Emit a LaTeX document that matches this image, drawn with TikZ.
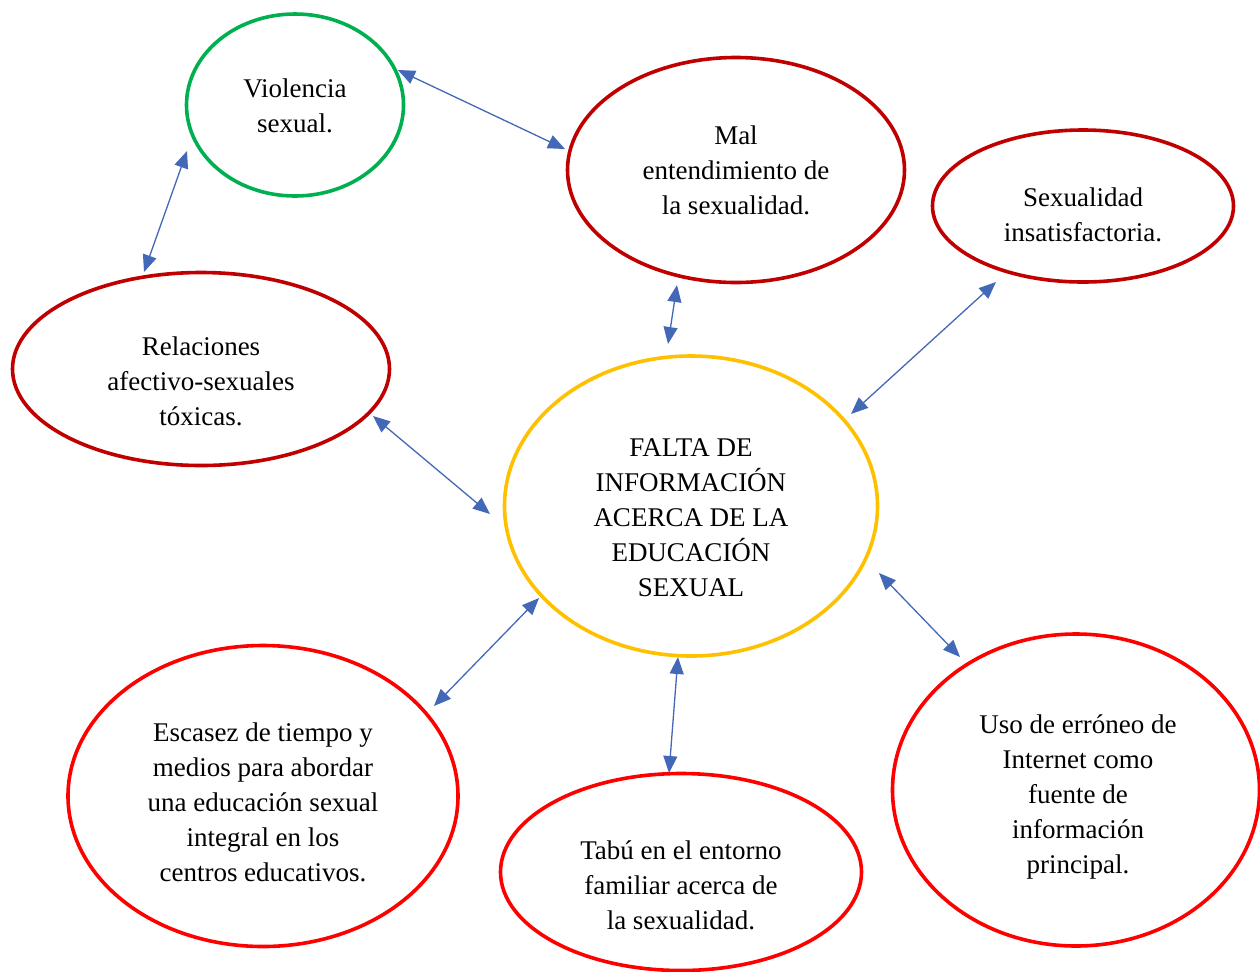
\documentclass[tikz,border=0pt]{standalone}
\usepackage{fontspec}
\setmainfont{Liberation Serif}
\usetikzlibrary{arrows.meta,shapes.geometric}
\definecolor{cgreen}{HTML}{00B050}
\definecolor{cdred}{HTML}{C00000}
\definecolor{cred}{HTML}{FF0000}
\definecolor{corange}{HTML}{FFC000}
\definecolor{cblue}{HTML}{4468B8}
\tikzset{
  oval/.style={ellipse, draw, line width=1.8pt, inner sep=0pt, outer sep=0pt},
  lbl/.style={align=center, font=\fontsize{13.5}{17.5}\selectfont, inner sep=0pt},
  link/.style={cblue, line width=0.65pt, {Triangle[length=8.5pt,width=7pt]}-{Triangle[length=8.5pt,width=7pt]}}
}
\begin{document}
\begin{tikzpicture}[x=0.5pt,y=-0.5pt]
\clip (0,0) rectangle (1260,971);
\fill[white] (0,0) rectangle (1260,971);
% ellipses
\node[oval, draw=cgreen,  minimum width=108.5pt, minimum height=91pt]   (viol) at (295,105) {};
\node[oval, draw=cdred,   minimum width=168.5pt, minimum height=112.5pt] (mal)  at (736,170) {};
\node[oval, draw=cdred,   minimum width=150.5pt, minimum height=76pt]    (sex)  at (1083,206) {};
\node[oval, draw=cdred,   minimum width=188.5pt, minimum height=96.5pt]  (rel)  at (201,369) {};
\node[oval, draw=corange, minimum width=186.5pt, minimum height=150pt]   (cen)  at (691,506) {};
\node[oval, draw=cred,    minimum width=195pt,   minimum height=150.5pt] (esc)  at (263,796) {};
\node[oval, draw=cred,    minimum width=180.5pt, minimum height=98.5pt]  (tab)  at (681,872) {};
\node[oval, draw=cred,    minimum width=183.5pt, minimum height=156pt]   (uso)  at (1076,790) {};
% texts
\node[lbl] (violT) at (295,106) {Violencia\\sexual.};
\node[lbl] (malT)  at (736,170) {Mal\\entendimiento de\\la sexualidad.};
\node[lbl] (sexT)  at (1083,215) {Sexualidad\\insatisfactoria.};
\node[lbl] (relT)  at (201,381) {Relaciones\\afectivo-sexuales\\tóxicas.};
\node[lbl] (cenT)  at (691,518) {FALTA DE\\INFORMACIÓN\\ACERCA DE LA\\EDUCACIÓN\\SEXUAL};
\node[lbl] (escT)  at (263,802) {Escasez de tiempo y\\medios para abordar\\una educación sexual\\integral en los\\centros educativos.};
\node[lbl] (tabT)  at (681,885) {Tabú en el entorno\\familiar acerca de\\la sexualidad.};
\node[lbl] (usoT)  at (1078,797) {Uso de erróneo de\\Internet como\\fuente de\\información\\principal.};
% connector ends
\coordinate (a1s) at (398,70);  \coordinate (a1e) at (565,149);
\coordinate (a2s) at (187,151); \coordinate (a2e) at (144,272);
\coordinate (a3s) at (677,285); \coordinate (a3e) at (668,344);
\coordinate (a4s) at (996,282); \coordinate (a4e) at (851,414);
\coordinate (a5s) at (373,416); \coordinate (a5e) at (490,514);
\coordinate (a6s) at (539,598); \coordinate (a6e) at (434,706);
\coordinate (a7s) at (678,657); \coordinate (a7e) at (669,773);
\coordinate (a8s) at (879,573); \coordinate (a8e) at (960,657);
% connectors
\draw[link] (a1s) -- (a1e);
\draw[link] (a2s) -- (a2e);
\draw[link] (a3s) -- (a3e);
\draw[link] (a4s) -- (a4e);
\draw[link] (a5s) -- (a5e);
\draw[link] (a6s) -- (a6e);
\draw[link] (a7s) -- (a7e);
\draw[link] (a8s) -- (a8e);
\end{tikzpicture}
\end{document}
